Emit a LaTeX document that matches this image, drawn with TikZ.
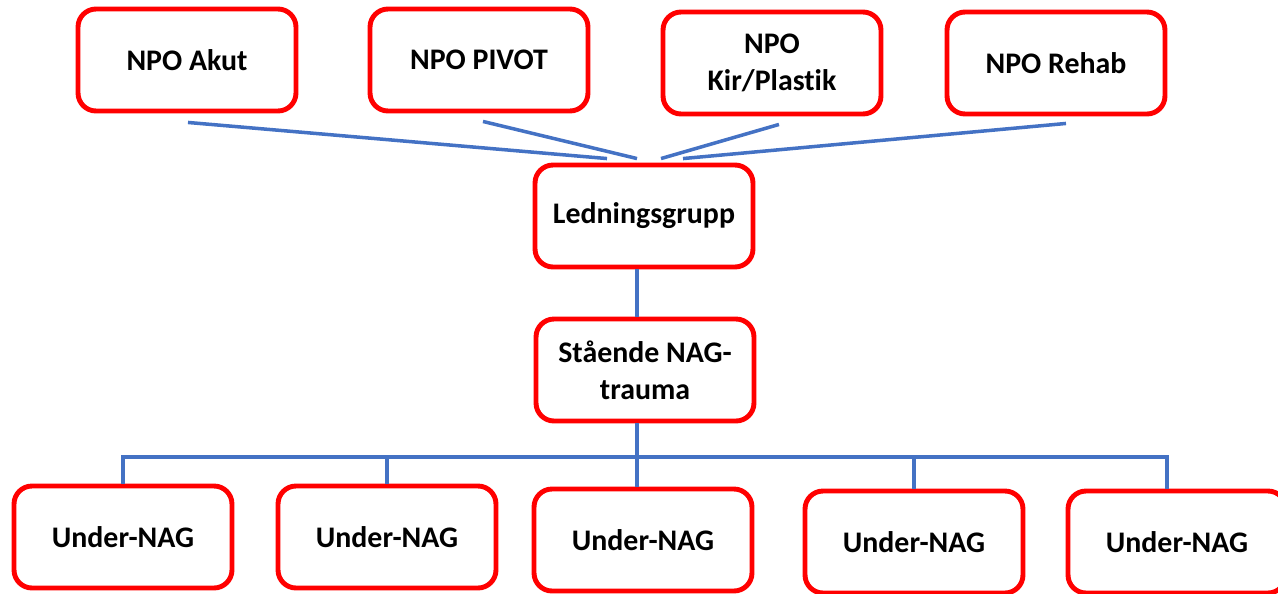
\documentclass[tikz,border=0pt]{standalone}
\usepackage{fontspec}
\setmainfont{Carlito}[Ligatures=NoCommon]
\usetikzlibrary{calc}
\definecolor{Boxred}{RGB}{255,0,0}
\definecolor{Linkblue}{RGB}{68,114,196}
\tikzset{box/.style={draw=Boxred,line width=2.8pt,rounded corners=0.36cm,fill=white,minimum width=4.36cm,minimum height=2.04cm,align=center,font=\fontsize{17}{21}\selectfont\bfseries},
  link/.style={Linkblue,line width=2pt}}

\begin{document}
\begin{tikzpicture}[x=0.02cm,y=-0.02cm]
          \useasboundingbox (0,0) rectangle (1278,593);
          % NPO row
          \node[box] (akut) at (187,60) {NPO Akut};
          \node[box] (pivot) at (479,60) {NPO PIVOT};
          \node[box] (kir) at (772,63) {NPO\\Kir/Plastik};
          \node[box] (rehab) at (1056,63) {NPO Rehab};
          \node[box] (led) at (644,216) {Ledningsgrupp};
          \node[box] (stand) at (645,370) {Stående NAG-\\trauma};
          % Under-NAG row
          \node[box] (u1) at (123,537) {Under-NAG};
          \node[box] (u2) at (387,537) {Under-NAG};
          \node[box] (u3) at (643,540) {Under-NAG};
          \node[box] (u4) at (914,542) {Under-NAG};
          \node[box] (u5) at (1177,542) {Under-NAG};
          \coordinate (bus) at (0,457);
          \draw[link] ($(akut.south)+(1,9)$)--($(led.north)+(-37,-4)$);
          \draw[link] ($(pivot.south)+(4,8)$)--($(led.north)+(-7,-4)$);
          \draw[link] ($(kir.south)+(7,8)$)--($(led.north)+(17,-4)$);
          \draw[link] ($(rehab.south)+(10,7)$)--($(led.north)+(39,-4)$);
          \draw[link] ($(led.south)+(-7,0)$)--($(stand.north)+(-8,0)$);
          \draw[link] ($(stand.south)+(-8,0)$)--($(u3.north)+(-6,0)$);
          \draw[link] (u1.north)--(u1.north|-bus)--($(u5.north|-bus)+(-10,0)$)--($(u5.north)+(-10,0)$);
          \draw[link] (u2.north)--(u2.north|-bus);
          \draw[link] (u4.north)--(u4.north|-bus);
    \end{tikzpicture}
\end{document}
